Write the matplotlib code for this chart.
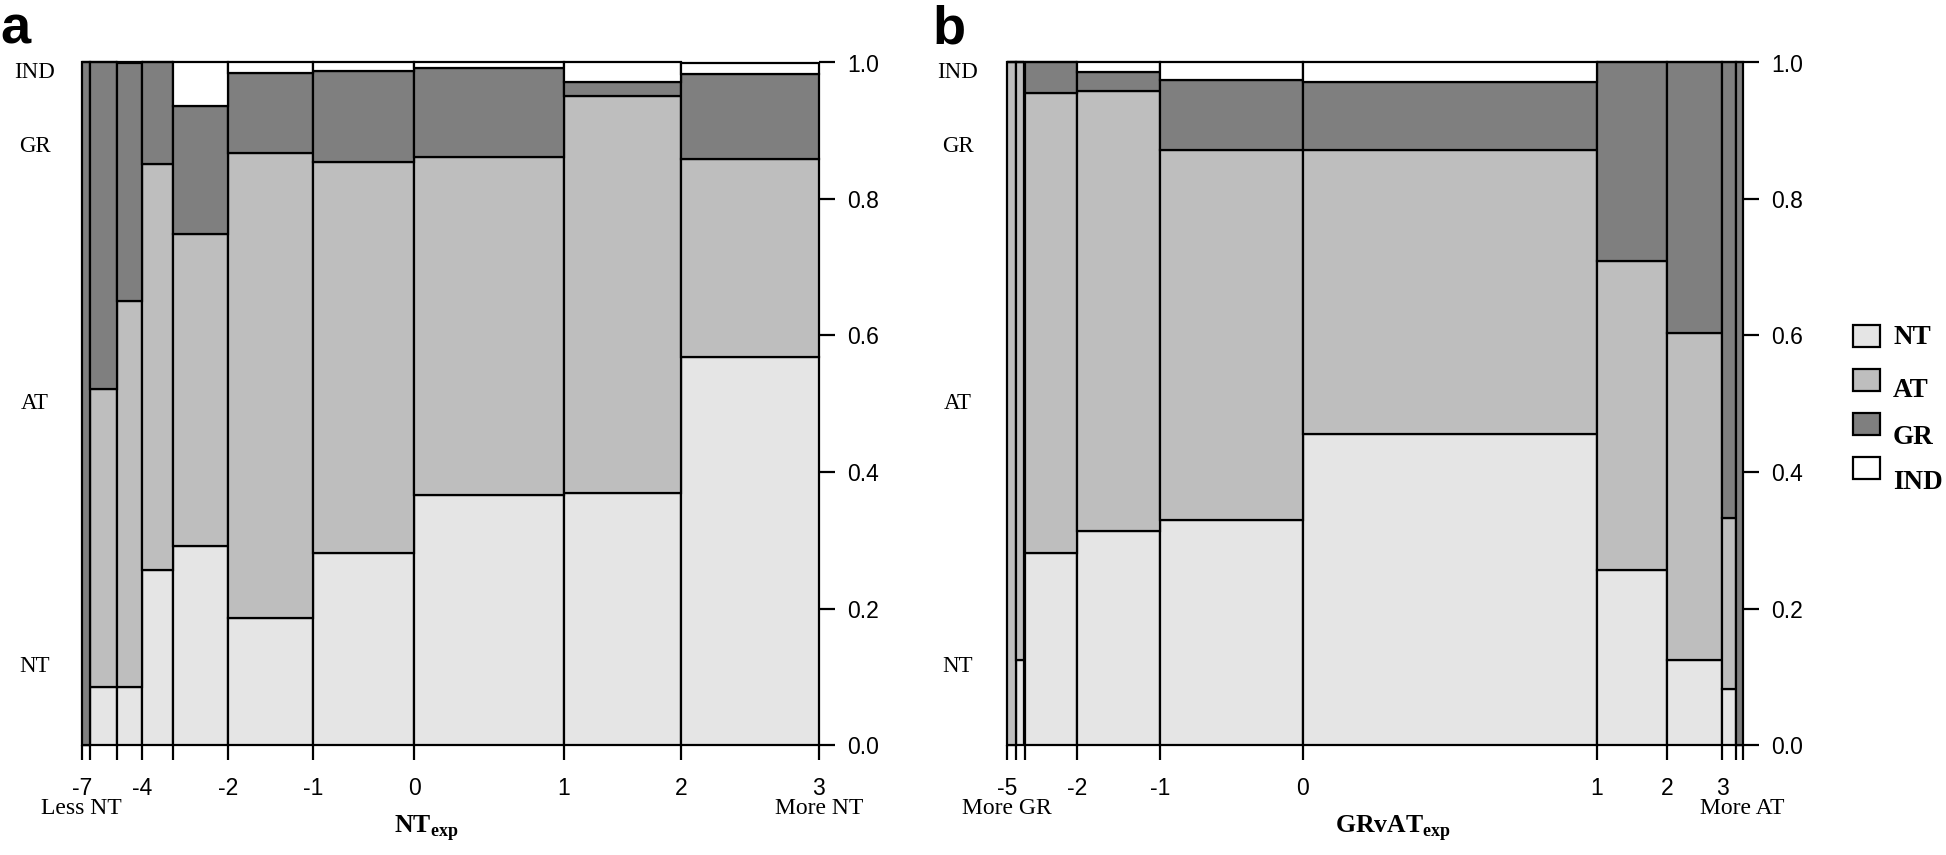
import numpy as np
import matplotlib
matplotlib.use("Agg")
import matplotlib.pyplot as plt
from matplotlib.patches import Rectangle

# ---------------- data ----------------
categories = ["NT", "AT", "GR", "IND"]
colors = ["#E5E5E5", "#BEBEBE", "#7F7F7F", "#FFFFFF"]

# Panel a: NT_exp
a_ticks = ["-7", "", "", "-4", "", "-2", "-1", "0", "1", "2", "3"]
a_widths = [8.3, 26.7, 25.6, 31.0, 54.4, 85.8, 100.7, 149.5, 117.6, 137.6]
a_NT = [0.000, 0.085, 0.085, 0.257, 0.291, 0.186, 0.282, 0.367, 0.369, 0.569]
a_AT = [0.000, 0.436, 0.565, 0.594, 0.458, 0.681, 0.572, 0.495, 0.582, 0.289]
a_GR = [1.000, 0.479, 0.350, 0.149, 0.187, 0.118, 0.134, 0.130, 0.020, 0.125]
a_IND = [0.000, 0.000, 0.000, 0.000, 0.064, 0.015, 0.012, 0.008, 0.029, 0.017]

# Panel b: GRvAT_exp
b_ticks = ["-5", "", "", "-2", "-1", "0", "1", "2", "3", "", ""]
b_widths = [8.8, 8.7, 52.5, 83.0, 142.5, 294.0, 70.8, 55.0, 13.4, 7.0]
b_NT = [0.000, 0.124, 0.281, 0.313, 0.329, 0.456, 0.257, 0.125, 0.082, 0.000]
b_AT = [1.000, 0.876, 0.675, 0.645, 0.543, 0.416, 0.452, 0.479, 0.251, 0.000]
b_GR = [0.000, 0.000, 0.044, 0.028, 0.103, 0.100, 0.291, 0.396, 0.667, 1.000]
b_IND = [0.000, 0.000, 0.000, 0.014, 0.025, 0.028, 0.000, 0.000, 0.000, 0.000]

y_ticks = [0.0, 0.2, 0.4, 0.6, 0.8, 1.0]
y_side_labels = ["NT", "AT", "GR", "IND"]

SANS = "Liberation Sans"
SERIF = "Liberation Serif"
plt.rcParams["mathtext.fontset"] = "custom"
plt.rcParams["mathtext.bf"] = "Liberation Serif:bold"
plt.rcParams["mathtext.rm"] = "Liberation Serif"

W, H = 1946, 855
fig = plt.figure(figsize=(W / 100, H / 100), dpi=100)


def px_axes(x0, x1, ytop, ybot):
    return fig.add_axes([x0 / W, 1 - ybot / H, (x1 - x0) / W, (ybot - ytop) / H])


def spine(ax, widths, series, ticklabels):
    w = np.array(widths, dtype=float)
    w = w / w.sum()
    lefts = np.concatenate([[0], np.cumsum(w)[:-1]])
    bottom = np.zeros(len(w))
    for vals, col in zip(series, colors):
        vals = np.array(vals)
        ax.bar(lefts, vals, width=w, bottom=bottom, align="edge", color=col,
               edgecolor="black", linewidth=1.6, clip_on=False, zorder=2)
        bottom = bottom + vals
    ax.set_xlim(0, 1)
    ax.set_ylim(0, 1)
    for s in ax.spines.values():
        s.set_visible(False)
    edges = np.concatenate([[0], np.cumsum(w)])
    ax.set_xticks(edges)
    ax.set_xticklabels(ticklabels, fontfamily=SANS, fontsize=16.5)
    ax.tick_params(axis="x", length=11, width=1.6, pad=12, direction="out")
    ax.yaxis.tick_right()
    ax.set_yticks(y_ticks)
    ax.set_yticklabels([f"{v:.1f}" for v in y_ticks], fontfamily=SANS, fontsize=16.5)
    ax.tick_params(axis="y", length=11.5, width=1.6, pad=9, direction="out")
    ax.patch.set_alpha(0)


axa = px_axes(81.7, 818.9, 62.5, 745)
spine(axa, a_widths, [a_NT, a_AT, a_GR, a_IND], a_ticks)
axb = px_axes(1007, 1742.7, 62.5, 745)
spine(axb, b_widths, [b_NT, b_AT, b_GR, b_IND], b_ticks)

# overlay axes in pixel coordinates for annotations
ov = fig.add_axes([0, 0, 1, 1], zorder=-1)
ov.set_xlim(0, W)
ov.set_ylim(H, 0)
ov.axis("off")

side_y = [0.115, 0.5, 0.877, 0.985]
for ax, xc in [(axa, 35), (axb, 958)]:
    x0 = ax.get_position().x0 * W
    x1 = ax.get_position().x1 * W
    for lab, yv in zip(y_side_labels, side_y):
        ax.text((xc - x0) / (x1 - x0), yv, lab, transform=ax.transAxes,
                ha="center", va="center", fontfamily=SERIF, fontsize=16.5)

# end labels
ov.text(81.7, 808, "Less NT", ha="center", va="center", fontfamily=SERIF, fontsize=17)
ov.text(818.9, 808, "More NT", ha="center", va="center", fontfamily=SERIF, fontsize=17)
ov.text(1007, 808, "More GR", ha="center", va="center", fontfamily=SERIF, fontsize=17)
ov.text(1742.7, 808, "More AT", ha="center", va="center", fontfamily=SERIF, fontsize=17)

# axis titles
ov.text(426, 832, r"$\mathbf{NT}_{\mathbf{exp}}$", ha="center", va="baseline", fontsize=18.5)
ov.text(1393, 832, r"$\mathbf{GRvAT}_{\mathbf{exp}}$", ha="center", va="baseline", fontsize=18.5)

# panel letters
ov.text(0, 43, "a", ha="left", va="baseline", fontfamily=SANS, fontweight="bold", fontsize=39)
ov.text(932, 43, "b", ha="left", va="baseline", fontfamily=SANS, fontweight="bold", fontsize=39)

# legend
box_y = [325, 369, 413, 457]
text_y = [337, 390, 437, 482]
for cat, col, by, ty in zip(categories, colors, box_y, text_y):
    ov.add_patch(Rectangle((1853, by), 27, 22, facecolor=col, edgecolor="black", linewidth=1.6))
    ov.text(1893, ty, cat, ha="left", va="center", fontfamily=SERIF, fontweight="bold", fontsize=19.5)

fig.savefig("out.png", dpi=100)
